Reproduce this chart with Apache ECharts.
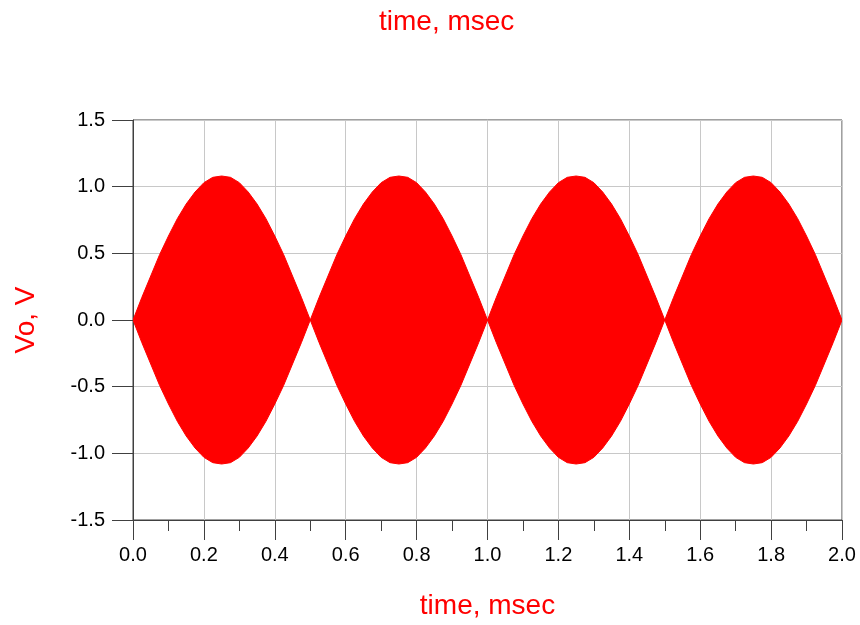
<!DOCTYPE html>
<html>
<head>
<meta charset="utf-8">
<script src="https://cdn.jsdelivr.net/npm/echarts@6/dist/echarts.min.js"></script>
<style>html,body{margin:0;padding:0;background:#fff}#c{width:860px;height:625px}</style>
</head>
<body>
<div id="c"></div>
<script>
// time samples (msec)
var timeMs = [0.000,0.025,0.050,0.075,0.100,0.125,0.150,0.175,0.200,0.225,0.250,0.275,0.300,0.325,0.350,0.375,0.400,0.425,0.450,0.475,
0.500,0.525,0.550,0.575,0.600,0.625,0.650,0.675,0.700,0.725,0.750,0.775,0.800,0.825,0.850,0.875,0.900,0.925,0.950,0.975,
1.000,1.025,1.050,1.075,1.100,1.125,1.150,1.175,1.200,1.225,1.250,1.275,1.300,1.325,1.350,1.375,1.400,1.425,1.450,1.475,
1.500,1.525,1.550,1.575,1.600,1.625,1.650,1.675,1.700,1.725,1.750,1.775,1.800,1.825,1.850,1.875,1.900,1.925,1.950,1.975,2.000];
// upper envelope of Vo (V)
var envUpper = [0.00,0.17,0.33,0.49,0.63,0.76,0.87,0.96,1.03,1.07,1.08,1.07,1.03,0.96,0.87,0.76,0.63,0.49,0.33,0.17,
0.00,0.17,0.33,0.49,0.63,0.76,0.87,0.96,1.03,1.07,1.08,1.07,1.03,0.96,0.87,0.76,0.63,0.49,0.33,0.17,
0.00,0.17,0.33,0.49,0.63,0.76,0.87,0.96,1.03,1.07,1.08,1.07,1.03,0.96,0.87,0.76,0.63,0.49,0.33,0.17,
0.00,0.17,0.33,0.49,0.63,0.76,0.87,0.96,1.03,1.07,1.08,1.07,1.03,0.96,0.87,0.76,0.63,0.49,0.33,0.17,0.00];
// lower envelope of Vo (V)
var envLower = [0.00,-0.17,-0.33,-0.49,-0.63,-0.76,-0.87,-0.96,-1.03,-1.07,-1.08,-1.07,-1.03,-0.96,-0.87,-0.76,-0.63,-0.49,-0.33,-0.17,
0.00,-0.17,-0.33,-0.49,-0.63,-0.76,-0.87,-0.96,-1.03,-1.07,-1.08,-1.07,-1.03,-0.96,-0.87,-0.76,-0.63,-0.49,-0.33,-0.17,
0.00,-0.17,-0.33,-0.49,-0.63,-0.76,-0.87,-0.96,-1.03,-1.07,-1.08,-1.07,-1.03,-0.96,-0.87,-0.76,-0.63,-0.49,-0.33,-0.17,
0.00,-0.17,-0.33,-0.49,-0.63,-0.76,-0.87,-0.96,-1.03,-1.07,-1.08,-1.07,-1.03,-0.96,-0.87,-0.76,-0.63,-0.49,-0.33,-0.17,0.00];
var xTitle = 'time, msec';
var yTitle = 'Vo, V';
var topTitle = 'time, msec';

var bandData = timeMs.map(function(t,i){return [t, envLower[i], envUpper[i]];});

var chart = echarts.init(document.getElementById('c'), null, {renderer:'canvas'});
var FONT = 'Liberation Sans, Arial, sans-serif';
var axisDark = '#404040';

function renderBand(params, api){
  if (params.dataIndex !== 0) return null;
  var pts = [];
  for (var i = 0; i < timeMs.length; i++) pts.push(api.coord([timeMs[i], envUpper[i]]));
  for (var j = timeMs.length - 1; j >= 0; j--) pts.push(api.coord([timeMs[j], envLower[j]]));
  return {
    type:'polygon',
    shape:{points:pts},
    style:{fill:'#ff0000', stroke:'#ff0000', lineWidth:1}
  };
}

chart.setOption({
  animation:false,
  backgroundColor:'#fff',
  title:{text:topTitle, left:374, top:3, textStyle:{color:'#ff0000', fontSize:28, fontWeight:'normal', fontFamily:FONT}},
  grid:{left:133, right:18, top:120, bottom:104, show:true, borderColor:axisDark, borderWidth:1, backgroundColor:'transparent'},
  xAxis:{
    type:'value', min:0, max:2, interval:0.2,
    name:xTitle, nameLocation:'middle', nameGap:72,
    nameTextStyle:{color:'#ff0000', fontSize:28, fontFamily:FONT},
    axisLine:{show:true, onZero:false, lineStyle:{color:axisDark, width:1}},
    axisTick:{show:true, inside:false, length:20, lineStyle:{color:axisDark}},
    minorTick:{show:true, splitNumber:2, length:11, lineStyle:{color:axisDark}},
    splitLine:{show:true, lineStyle:{color:'#c8c8c8', width:1}},
    axisLabel:{color:'#000', fontSize:20, fontFamily:FONT, margin:25, formatter:function(v){return v.toFixed(1);}}
  },
  yAxis:{
    type:'value', min:-1.5, max:1.5, interval:0.5,
    name:yTitle, nameLocation:'middle', nameGap:93, nameRotate:90,
    nameTextStyle:{color:'#ff0000', fontSize:28, fontFamily:FONT},
    axisLine:{show:true, onZero:false, lineStyle:{color:axisDark, width:1}},
    axisTick:{show:true, inside:false, length:21, lineStyle:{color:axisDark}},
    splitLine:{show:true, lineStyle:{color:'#c8c8c8', width:1}},
    axisLabel:{color:'#000', fontSize:20, fontFamily:FONT, margin:28, formatter:function(v){return v.toFixed(1);}}
  },
  series:[
    {type:'custom', data:bandData, encode:{x:0, y:[1,2]}, renderItem:renderBand, clip:true, z:3}
  ]
});
</script>
</body>
</html>
